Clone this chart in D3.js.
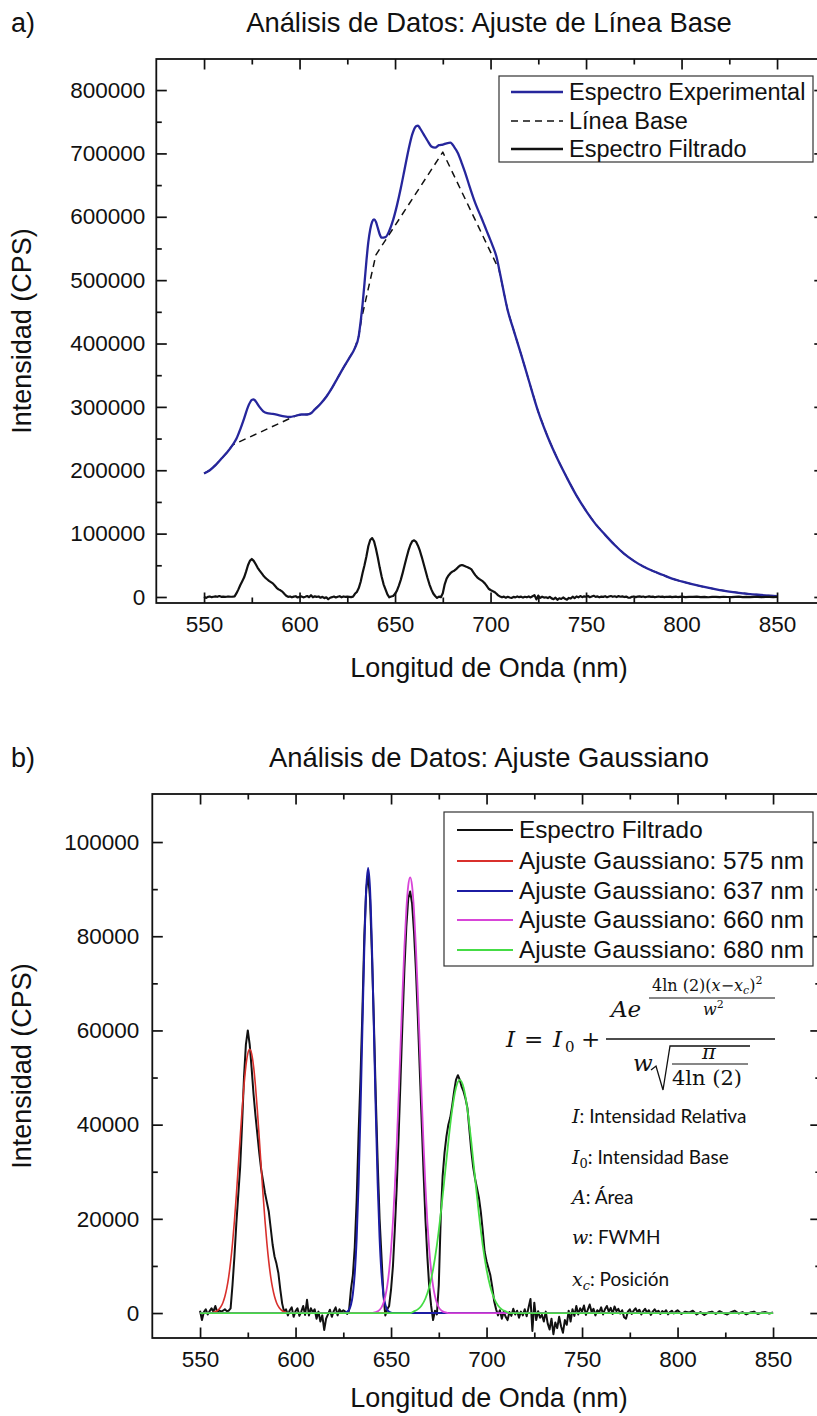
<!DOCTYPE html>
<html><head><meta charset="utf-8">
<script src="https://cdn.jsdelivr.net/npm/d3@7"></script>
<style>
body{margin:0;background:#fff}
svg{display:block}
text{font-family:"Liberation Sans",Arial,Helvetica,sans-serif;fill:#111}
</style>
</head><body>
<svg id="fig" width="817" height="1416"></svg>
<script>
// ---- Panel a: experimental emission spectrum (nm, CPS)
const experimental = [[550,195000],[553,200000],[556,208000],[559,218000],[562,228000],[565,240000],[567,250000],[569,265000],[571,282000],[573,300000],[575,311000],[576,312000],[577,309000],[579,300000],[581,293000],[583,290000],[586,289000],[589,287000],[592,285000],[595,284000],[598,286000],[601,288000],[604,288000],[606,290000],[608,296000],[611,305000],[614,316000],[617,330000],[620,346000],[623,362000],[626,377000],[629,393000],[631,412000],[632,435000],[633,462000],[634,495000],[635,530000],[636,560000],[637,580000],[638,592000],[639,596000],[640,592000],[641,582000],[642,572000],[643,567000],[645,568000],[647,578000],[649,595000],[651,618000],[653,645000],[655,675000],[657,705000],[659,730000],[661,743000],[662,744000],[663,740000],[665,730000],[667,720000],[669,711000],[671,709000],[673,713000],[675,714000],[677,716000],[679,717000],[681,710000],[683,700000],[685,684000],[687,667000],[689,648000],[691,630000],[693,614000],[695,600000],[697,585000],[699,570000],[701,555000],[703,538000],[705,510000],[707,480000],[709,452000],[712,422000],[716,383000],[720,342000],[725,292000],[730,252000],[735,218000],[740,188000],[745,160000],[750,136000],[755,115000],[760,98000],[765,82000],[770,68000],[775,57000],[780,48000],[785,41000],[790,35000],[795,29000],[800,24500],[810,17000],[820,11000],[830,6500],[840,3500],[850,1500]];

// Fitted baseline (dashed)
const baseline = [[550,195000],[553,200000],[556,208000],[559,218000],[562,228000],[565,240000],[598,286000],[601,288000],[604,288000],[606,290000],[608,296000],[611,305000],[614,316000],[617,330000],[620,346000],[623,362000],[626,377000],[629,393000],[631,412000],[632.5,440000],[640,540000],[675,702000],[704.5,516000],[707,480000],[709,452000],[712,422000],[716,383000],[720,342000],[725,292000],[730,252000],[735,218000],[740,188000],[745,160000],[750,136000],[755,115000],[760,98000],[765,82000],[770,68000],[775,57000],[780,48000],[785,41000],[790,35000],[795,29000],[800,24500],[810,17000],[820,11000],[830,6500],[840,3500],[850,1500]];

// Baseline-subtracted spectrum (used in both panels)
const filtered = [[550,500],[551,-1500],[552,200],[553,800],[554,-300],[555,400],[556,1000],[557,300],[558,1500],[559,200],[560,600],[561,300],[562,500],[563,800],[564,400],[565,500],[566,1000],[567,6000],[568,12000],[569,19000],[570,25000],[571,31000],[572,40000],[573,50000],[574,57000],[575,60000],[576,57000],[577,52000],[578,46500],[579,42000],[580,38000],[581,34000],[582,30500],[583,28000],[584,25500],[585,23500],[586,21500],[587,18000],[588,14500],[589,12000],[590,10500],[591,8500],[592,5000],[593,2000],[594,300],[595,800],[596,-500],[597,600],[598,1200],[599,-800],[600,400],[601,1000],[602,-600],[603,300],[604,1500],[605,-400],[606,2800],[607,-500],[608,1000],[609,200],[610,800],[611,-1200],[612,300],[613,-1800],[614,-500],[615,-3600],[616,-1200],[617,-300],[618,700],[619,-800],[620,400],[621,1200],[622,-500],[623,800],[624,200],[625,600],[626,300],[627,-200],[628,500],[629,5000],[630,8000],[631,14000],[632,24000],[633,38000],[634,50000],[635,64000],[636,80000],[637,90000],[638,93000],[639,88000],[640,76000],[641,62000],[642,46000],[643,32000],[644,20000],[645,12000],[646,4000],[647,-500],[648,800],[649,1500],[650,5000],[651,10000],[652,18000],[653,27000],[654,38000],[655,50000],[656,62000],[657,73000],[658,82000],[659,88000],[660,89500],[661,87000],[662,81000],[663,73000],[664,63000],[665,52000],[666,41000],[667,30000],[668,20000],[669,12000],[670,5500],[671,1500],[672,-1500],[673,500],[674,-300],[675,6000],[676,20000],[677,29000],[678,34000],[679,37500],[680,40000],[681,41500],[682,44000],[683,47000],[684,49500],[685,50500],[686,49500],[687,48000],[688,47000],[689,45500],[690,43500],[691,39000],[692,34500],[693,31000],[694,28500],[695,26500],[696,24500],[697,21500],[698,17500],[699,13000],[700,11000],[701,9500],[702,8000],[703,5500],[704,2500],[705,800],[706,-500],[707,600],[708,-1200],[709,300],[710,-800],[711,-1500],[712,200],[713,-600],[714,900],[715,-300],[716,500],[717,-1000],[718,300],[719,-500],[720,800],[721,-700],[722,1200],[723,3000],[724,-3800],[725,2200],[726,-1500],[727,400],[728,-1000],[729,-400],[730,-1800],[731,300],[732,-2200],[733,-3500],[734,-1200],[735,-4500],[736,-2000],[737,-3200],[738,-800],[739,-2800],[740,-4200],[741,-1500],[742,-2500],[743,500],[744,-1800],[745,800],[746,-600],[747,1500],[748,-300],[749,1000],[750,300],[751,1600],[752,-400],[753,700],[754,1800],[755,200],[756,900],[757,-500],[758,600],[759,200],[760,1200],[761,-300],[762,800],[763,1500],[764,300],[765,1100],[766,-200],[767,1400],[768,400],[769,900],[770,-100],[771,600],[772,-900],[773,-1200],[774,300],[775,800],[776,-200],[777,500],[778,1000],[779,200],[780,700],[781,-300],[782,400],[783,900],[784,100],[785,600],[786,-400],[787,300],[788,800],[789,200],[790,500],[791,-200],[792,400],[793,100],[794,600],[795,-300],[796,200],[797,500],[798,-100],[799,300],[800,600],[802,-200],[804,300],[806,100],[808,500],[810,-300],[812,200],[814,-400],[816,100],[818,300],[820,-200],[822,400],[824,0],[826,-300],[828,200],[830,500],[832,-100],[834,200],[836,-300],[838,100],[840,300],[842,-200],[844,100],[846,200],[848,-100],[850,100]];

// ---- Panel b: Gaussian fits
const fit575 = [[550,0],[556,0],[557,150],[558,270],[559,490],[560,840],[561,1400],[562,2250],[563,3500],[564,5270],[565,7690],[566,10850],[567,14820],[568,19600],[569,25060],[570,31010],[571,37160],[572,43070],[573,48310],[574,52440],[575,55090],[576,56000],[577,55090],[578,52440],[579,48310],[580,43070],[581,37160],[582,31010],[583,25060],[584,19600],[585,14820],[586,10850],[587,7690],[588,5270],[589,3500],[590,2250],[591,1400],[592,840],[593,490],[594,270],[595,150],[596,0],[850,0]];
const fit637 = [[550,0],[625,0],[626,80],[627,240],[628,680],[629,1740],[630,4030],[631,8440],[632,16020],[633,27560],[634,42930],[635,60630],[636,77590],[637,89950],[638,94500],[639,89950],[640,77590],[641,60630],[642,42930],[643,27560],[644,16020],[645,8440],[646,4030],[647,1740],[648,680],[649,240],[650,80],[651,0],[850,0]];
const fit660 = [[550,0],[640,0],[642,180],[643,354],[644,670],[645,1210],[646,2120],[647,3570],[648,5780],[649,9000],[650,13480],[651,19430],[652,26960],[653,36000],[654,46240],[655,57150],[656,67980],[657,77780],[658,85640],[659,90740],[660,92500],[661,90740],[662,85640],[663,77780],[664,67980],[665,57150],[666,46240],[667,36000],[668,26960],[669,19430],[670,13480],[671,9000],[672,5780],[673,3570],[674,2120],[675,1210],[676,670],[677,354],[678,180],[680,0],[850,0]];
const fit680 = [[550,0],[660,0],[662,360],[664,780],[666,1610],[668,3090],[670,5530],[672,9250],[674,14430],[676,21030],[678,28620],[680,36380],[682,43170],[684,47830],[686,49500],[688,47830],[690,43170],[692,36380],[694,28620],[696,21030],[698,14430],[700,9250],[702,5530],[704,3090],[706,1610],[708,780],[710,360],[712,0],[850,0]];

// ---- Axis ticks and labels
const xMajor = [550,600,650,700,750,800,850];
const xMinor = [575,625,675,725,775,825];
const yMajorA = [0,100000,200000,300000,400000,500000,600000,700000,800000];
const yMinorA = [50000,150000,250000,350000,450000,550000,650000,750000];
const yMajorB = [0,20000,40000,60000,80000,100000];
const yMinorB = [10000,30000,50000,70000,90000];

const legendA = ["Espectro Experimental","Línea Base","Espectro Filtrado"];
const legendB = ["Espectro Filtrado","Ajuste Gaussiano: 575 nm","Ajuste Gaussiano: 637 nm","Ajuste Gaussiano: 660 nm","Ajuste Gaussiano: 680 nm"];
const fitColors = ["#111111","#d9302c","#1c1ca3","#d845d8","#45dc45"];
const expColor = "#26269c";

const SANS = '"Liberation Sans",Arial,Helvetica,sans-serif';
const MATH = '"DejaVu Serif","Liberation Serif",serif';

const svg = d3.select("#fig");
svg.append("rect").attr("width",817).attr("height",1416).attr("fill","#fff");

function framePanel(cfg){
  const g = svg.append("g");
  const x = d3.scaleLinear().domain([525,875]).range([cfg.left, cfg.left + 668.5]);
  const y = d3.scaleLinear().domain(cfg.yDomain).range([cfg.bottom, cfg.top]);
  const L = 10.5, m = 5.5;
  const fmt = d3.format("d");
  const styleAxis = sel => {
    sel.select(".domain").remove();
    sel.selectAll("line").attr("stroke","#111").attr("stroke-width",1.7);
    sel.selectAll("text").attr("fill","#111").style("font-family",SANS);
  };
  // bottom
  g.append("g").attr("transform",`translate(0,${cfg.bottom})`)
    .call(d3.axisBottom(x).tickValues(xMajor).tickSize(-L).tickSizeOuter(0).tickPadding(13).tickFormat(fmt))
    .call(styleAxis).selectAll("text").style("font-size","22.5px");
  g.append("g").attr("transform",`translate(0,${cfg.bottom})`)
    .call(d3.axisBottom(x).tickValues(xMinor).tickSize(-m).tickSizeOuter(0).tickFormat(""))
    .call(styleAxis);
  // top
  g.append("g").attr("transform",`translate(0,${cfg.top})`)
    .call(d3.axisTop(x).tickValues(xMajor).tickSize(-L).tickSizeOuter(0).tickFormat(""))
    .call(styleAxis);
  g.append("g").attr("transform",`translate(0,${cfg.top})`)
    .call(d3.axisTop(x).tickValues(xMinor).tickSize(-m).tickSizeOuter(0).tickFormat(""))
    .call(styleAxis);
  // left
  g.append("g").attr("transform",`translate(${cfg.left},0)`)
    .call(d3.axisLeft(y).tickValues(cfg.yMajor).tickSize(-L).tickSizeOuter(0).tickPadding(cfg.yPad).tickFormat(fmt))
    .call(styleAxis).selectAll("text").style("font-size","22.5px");
  g.append("g").attr("transform",`translate(${cfg.left},0)`)
    .call(d3.axisLeft(y).tickValues(cfg.yMinor).tickSize(-m).tickSizeOuter(0).tickFormat(""))
    .call(styleAxis);
  // right
  const xr = x.range()[1];
  g.append("g").attr("transform",`translate(${xr},0)`)
    .call(d3.axisRight(y).tickValues(cfg.yMajor).tickSize(-L).tickSizeOuter(0).tickFormat(""))
    .call(styleAxis);
  g.append("g").attr("transform",`translate(${xr},0)`)
    .call(d3.axisRight(y).tickValues(cfg.yMinor).tickSize(-m).tickSizeOuter(0).tickFormat(""))
    .call(styleAxis);
  // frame
  g.append("rect").attr("x",cfg.left).attr("y",cfg.top)
    .attr("width",xr-cfg.left).attr("height",cfg.bottom-cfg.top)
    .attr("fill","none").attr("stroke","#111").attr("stroke-width",1.8);
  // labels
  svg.append("text").attr("x",11).attr("y",cfg.tagY).style("font-size","27px").text(cfg.tag);
  svg.append("text").attr("x",489).attr("y",cfg.tagY).attr("text-anchor","middle").style("font-size","27.4px").text(cfg.title);
  svg.append("text").attr("x",489).attr("y",cfg.xTitleY).attr("text-anchor","middle").style("font-size","27px").text("Longitud de Onda (nm)");
  svg.append("text").attr("transform",`translate(31,${(cfg.top+cfg.bottom)/2}) rotate(-90)`)
    .attr("text-anchor","middle").style("font-size","27px").text("Intensidad (CPS)");
  return {x,y};
}

function drawLine(p, data, color, width, dash, curve){
  svg.append("path").datum(data)
    .attr("d", d3.line().x(d=>p.x(d[0])).y(d=>p.y(d[1])).curve(curve || d3.curveLinear))
    .attr("fill","none").attr("stroke",color).attr("stroke-width",width)
    .attr("stroke-linejoin","round").attr("stroke-dasharray",dash||null);
}

// ===== Panel a =====
const pa = framePanel({left:156.3, top:59, bottom:603, yDomain:[-9500,849000],
  yMajor:yMajorA, yMinor:yMinorA, yPad:11, tag:"a)", tagY:32, xTitleY:677,
  title:"Análisis de Datos: Ajuste de Línea Base"});
drawLine(pa, baseline, "#111", 1.5, "7,5");
drawLine(pa, experimental, expColor, 2.3, null, d3.curveMonotoneX);
drawLine(pa, filtered, "#111", 2.2);

// legend a
{
  const g = svg.append("g");
  g.append("rect").attr("x",499).attr("y",76).attr("width",314).attr("height",86)
    .attr("fill","#fff").attr("stroke","#333").attr("stroke-width",1.2);
  const ys = [92,121,149];
  const st = [{c:expColor,d:null,w:2.6},{c:"#111",d:"7,5",w:1.5},{c:"#111",d:null,w:2.6}];
  legendA.forEach((t,i)=>{
    g.append("line").attr("x1",511).attr("x2",563).attr("y1",ys[i]).attr("y2",ys[i])
      .attr("stroke",st[i].c).attr("stroke-width",st[i].w).attr("stroke-dasharray",st[i].d);
    g.append("text").attr("x",569).attr("y",ys[i]+8).style("font-size","23.5px").text(t);
  });
}

// ===== Panel b =====
const pb = framePanel({left:152.3, top:794, bottom:1338, yDomain:[-5300,110200],
  yMajor:yMajorB, yMinor:yMinorB, yPad:13, tag:"b)", tagY:767, xTitleY:1407,
  title:"Análisis de Datos: Ajuste Gaussiano"});
drawLine(pb, filtered, "#111", 2.0);
drawLine(pb, fit575, fitColors[1], 1.6, null, d3.curveMonotoneX);
drawLine(pb, fit637, fitColors[2], 2.0, null, d3.curveMonotoneX);
drawLine(pb, fit660, fitColors[3], 1.8, null, d3.curveMonotoneX);
drawLine(pb, fit680, fitColors[4], 1.8, null, d3.curveMonotoneX);

// legend b
{
  const g = svg.append("g");
  g.append("rect").attr("x",444).attr("y",812).attr("width",369).attr("height",154)
    .attr("fill","#fff").attr("stroke","#333").attr("stroke-width",1.2);
  const ys = [830,861,891,920,950];
  legendB.forEach((t,i)=>{
    g.append("line").attr("x1",457).attr("x2",513).attr("y1",ys[i]).attr("y2",ys[i])
      .attr("stroke",fitColors[i]).attr("stroke-width",2);
    g.append("text").attr("x",519).attr("y",ys[i]+8).style("font-size","24.3px").text(t);
  });
}

// formula and parameter notes
{
  const g = svg.append("g");
  const T = (x,y,s,txt,it,anchor) => g.append("text").attr("x",x).attr("y",y)
    .style("font-size",s+"px").style("font-style",it?"italic":"normal")
    .style("font-family",MATH)
    .attr("text-anchor",anchor||"start").text(txt);
  T(506,1047,23,"I",true);
  T(524,1047,23,"=",false);
  T(553,1047,23,"I",true);
  T(565,1052,15,"0",false);
  T(581,1047,23,"+",false);
  T(611,1017,23,"Ae",true);
  // exponent
  const ex = g.append("text").attr("x",652).attr("y",991).style("font-size","16px").style("font-family",MATH);
  ex.append("tspan").text("4ln (2)(");
  ex.append("tspan").style("font-style","italic").text("x");
  ex.append("tspan").text("−");
  ex.append("tspan").style("font-style","italic").text("x");
  ex.append("tspan").style("font-style","italic").style("font-size","11px").attr("dy",3).text("c");
  ex.append("tspan").attr("dy",-3).text(")");
  ex.append("tspan").style("font-size","11px").attr("dy",-7).text("2");
  g.append("line").attr("x1",649).attr("x2",775).attr("y1",998).attr("y2",998).attr("stroke","#111").attr("stroke-width",1);
  const w2 = g.append("text").attr("x",703).attr("y",1015).style("font-size","16px").style("font-family",MATH);
  w2.append("tspan").style("font-style","italic").text("w");
  w2.append("tspan").style("font-size","11px").attr("dy",-7).text("2");
  // main fraction bar
  g.append("line").attr("x1",606).attr("x2",775).attr("y1",1039).attr("y2",1039).attr("stroke","#111").attr("stroke-width",1.3);
  // denominator
  T(633,1071,23,"w",true);
  g.append("path").attr("d","M651,1070 L656,1066 L663,1090 L670,1046 L750,1046")
    .attr("fill","none").attr("stroke","#111").attr("stroke-width",1.3);
  T(709,1059,21,"π",true,"middle");
  g.append("line").attr("x1",672).attr("x2",748).attr("y1",1064).attr("y2",1064).attr("stroke","#111").attr("stroke-width",1.2);
  T(672,1085,21,"4ln (2)",false);

  const notes = [["I","",": Intensidad Relativa"],["I","0",": Intensidad Base"],["A","",": Área"],["w","",": FWMH"],["x","c",": Posición"]];
  const ny = [1123,1164,1204,1244,1286];
  notes.forEach((n,i)=>{
    const t = svg.append("text").attr("x",572).attr("y",ny[i]).style("font-size","19px");
    t.append("tspan").style("font-family",MATH).style("font-style","italic").style("font-size","19px").text(n[0]);
    if(n[1]) t.append("tspan").style("font-family",MATH).style("font-style", n[1]==="c"?"italic":"normal").style("font-size","13px").attr("dy",4).text(n[1]);
    t.append("tspan").style("font-family",'Lato,"Open Sans",sans-serif').attr("dy",n[1]?-4:0).text(n[2]);
  });
}
</script>
</body></html>
